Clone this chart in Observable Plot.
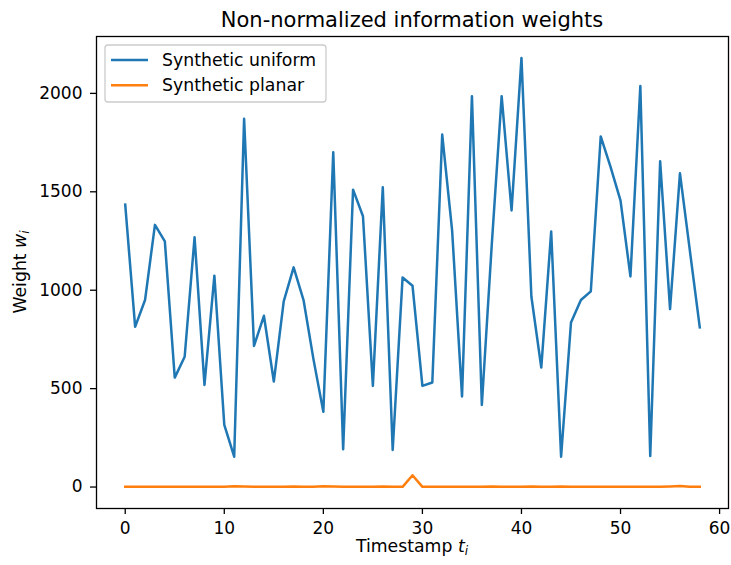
<!DOCTYPE html>
<html>
<head>
<meta charset="utf-8">
<script src="https://cdn.jsdelivr.net/npm/d3@7"></script>
<script src="https://cdn.jsdelivr.net/npm/@observablehq/plot@0.6"></script>
<style>
  html, body { margin: 0; padding: 0; background: #fff; }
  svg { display: block; }
</style>
</head>
<body>
<div id="chart"></div>
<script>
const timestamps = d3.range(59);
const syntheticUniform = [
  1435, 814, 950, 1332, 1248, 556, 662, 1269, 519, 1074,
  316, 154, 1871, 717, 870, 536, 943, 1116, 950, 650,
  382, 1701, 192, 1511, 1376, 514, 1523, 188, 1065, 1023,
  514, 531, 1791, 1303, 460, 1986, 417, 1230, 1986, 1405,
  2180, 968, 607, 1298, 154, 836, 950, 994, 1781, 1625,
  1455, 1070, 2037, 158, 1655, 904, 1594, 1201, 811
];
const syntheticPlanar = [
  1, 1, 1, 2, 1, 2, 1, 1, 1, 1,
  2, 4, 3, 1, 2, 1, 1, 3, 1, 2,
  4, 3, 1, 1, 2, 1, 3, 1, 1, 60,
  1, 1, 2, 1, 1, 1, 2, 3, 2, 1,
  2, 3, 2, 1, 3, 1, 1, 1, 1, 1,
  1, 2, 2, 1, 2, 3, 5, 1, 2
];
const seriesNames = ["Synthetic uniform", "Synthetic planar"];
const seriesColors = ["#1f77b4", "#ff7f0e"];
const xTicks = [0, 10, 20, 30, 40, 50, 60];
const yTicks = [0, 500, 1000, 1500, 2000];
const titleText = "Non-normalized information weights";

const FONT = "DejaVu Sans";
const TICK_FS = 17;
const LABEL_FS = 17.3;
const rowsU = timestamps.map((t, i) => ({t, w: syntheticUniform[i]}));
const rowsP = timestamps.map((t, i) => ({t, w: syntheticPlanar[i]}));

const chart = Plot.plot({
  width: 731,
  height: 565,
  marginLeft: 96,
  marginRight: 3,
  marginTop: 36,
  marginBottom: 57,
  style: {fontFamily: FONT, fontSize: TICK_FS + "px", color: "#000", background: "#fff"},
  x: {domain: [-2.9, 60.9], label: null},
  y: {domain: [-109, 2289], label: null},
  marks: [
    Plot.lineY(rowsU, {x: "t", y: "w", stroke: seriesColors[0], strokeWidth: 2.5, strokeLinejoin: "round", strokeLinecap: "square"}),
    Plot.lineY(rowsP, {x: "t", y: "w", stroke: seriesColors[1], strokeWidth: 2.5, strokeLinejoin: "round", strokeLinecap: "square"}),
    Plot.frame({stroke: "#000", strokeWidth: 1.3}),
    Plot.axisX({ticks: xTicks, tickFormat: d => String(d), tickSize: 6, tickPadding: 7, label: null, strokeWidth: 1.3, fontSize: TICK_FS}),
    Plot.axisY({ticks: yTicks, tickFormat: d => String(d), tickSize: 6, tickPadding: 8, label: null, strokeWidth: 1.3, fontSize: TICK_FS})
  ]
});

document.getElementById("chart").appendChild(chart);

const svg = d3.select(chart);
// force tick label size
svg.selectAll("g[aria-label$='tick label'] text, g[aria-label$='tick label']")
  .attr("font-size", TICK_FS).style("font-size", TICK_FS + "px");

// Title
svg.append("text")
  .attr("x", 412).attr("y", 26.5)
  .attr("text-anchor", "middle")
  .attr("font-family", FONT).attr("font-size", 21)
  .attr("fill", "#000")
  .text(titleText);

// X label
const xl = svg.append("text")
  .attr("x", 412).attr("y", 552)
  .attr("text-anchor", "middle")
  .attr("font-family", FONT).attr("font-size", LABEL_FS)
  .attr("fill", "#000");
xl.append("tspan").text("Timestamp ");
xl.append("tspan").attr("font-style", "italic").text("t");
xl.append("tspan").attr("font-style", "italic").attr("font-size", 12).attr("dy", 3).text("i");

// Y label
const yl = svg.append("text")
  .attr("transform", "translate(26,272) rotate(-90)")
  .attr("text-anchor", "middle")
  .attr("font-family", FONT).attr("font-size", LABEL_FS)
  .attr("fill", "#000");
yl.append("tspan").text("Weight ");
yl.append("tspan").attr("font-style", "italic").text("w");
yl.append("tspan").attr("font-style", "italic").attr("font-size", 12).attr("dy", 3).text("i");

// Legend
const lg = svg.append("g");
lg.append("rect")
  .attr("x", 105).attr("y", 45).attr("width", 221).attr("height", 57)
  .attr("rx", 3).attr("fill", "#fff").attr("fill-opacity", 0.8)
  .attr("stroke", "#cccccc").attr("stroke-width", 1.3);
seriesNames.forEach((name, i) => {
  const y = 60 + i * 25.3;
  lg.append("line")
    .attr("x1", 111).attr("x2", 148).attr("y1", y).attr("y2", y)
    .attr("stroke", seriesColors[i]).attr("stroke-width", 2.5);
  lg.append("text")
    .attr("x", 162).attr("y", y + 6)
    .attr("text-anchor", "start")
    .attr("font-family", FONT).attr("font-size", LABEL_FS)
    .attr("fill", "#000")
    .text(name);
});
</script>
</body>
</html>
